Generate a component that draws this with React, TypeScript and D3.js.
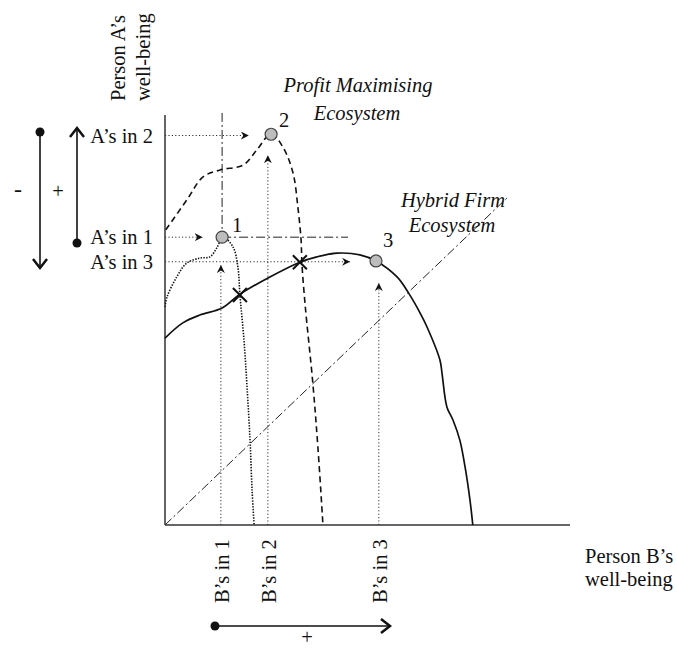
import React from "react";
import * as d3 from "d3";

// ---- data (abstract well-being units, 0..100 on both axes) ----
const profitCurve: [number, number][] = [
  [0.2, 72.0], [5.4, 79.3], [9.4, 84.9], [13.6, 86.6], [19.3, 87.8], [22.7, 91.5],
  [26.2, 95.4], [29.1, 92.2], [31.6, 85.9], [32.8, 77.6], [33.6, 69.5], [33.8, 63.9],
  [34.6, 53.7], [36.5, 34.6], [37.8, 18.3], [39.0, 0],
];
const startCurve: [number, number][] = [
  [0, 53.2], [0.5, 55.6], [2.9, 60.5], [5.4, 63.9], [8.6, 65.1], [11.1, 65.4],
  [12.8, 67.6], [14.3, 70.2], [16.8, 67.8], [18.0, 62.9], [18.5, 56.1], [19.5, 45.1],
  [20.2, 34.6], [21.0, 20.7], [21.5, 8.5], [22.0, 0],
];
const hybridCurve: [number, number][] = [
  [0, 45.6], [4.4, 49.3], [8.6, 51.2], [14.1, 52.9], [18.5, 56.3], [25.9, 60.5],
  [33.3, 64.1], [37.5, 65.4], [42.5, 66.3], [48.1, 65.9], [52.1, 64.4], [57.3, 60.5],
  [60.0, 56.8], [63.0, 51.7], [64.7, 48.3], [67.9, 40.2], [68.4, 37.0], [69.6, 28.8],
  [71.1, 25.6], [72.8, 20.7], [74.1, 14.1], [75.3, 6.1], [76.0, 0],
];
const pointLabels = ["1", "2", "3"];
const pointX = [14.1, 26.2, 52.1];
const pointY = [70.2, 95.3, 64.4];
const aLabels = ["A\u2019s in 2", "A\u2019s in 1", "A\u2019s in 3"];
const aLevels = [95.0, 70.2, 64.2];
const aArrowEnds = [20.7, 9.3, 45.7];
const bLabels = ["B\u2019s in 1", "B\u2019s in 2", "B\u2019s in 3"];
const bLevels = [13.8, 25.4, 52.8];
const bArrowEnds = [63.4, 90.2, 59.0];
const crossings: [number, number][] = [[18.5, 56.1], [33.3, 64.1]];
const diagonal: [number, number][] = [[0, 0], [84.7, 80]];
const axisTop = 100;
const axisRight = 100;
const guideTop = 100.5;
const guideRight = 45.2;

const FONT = "'Liberation Serif', 'Times New Roman', serif";
const FS = 20.5;

export default function App() {
  const W = 677, H = 649;
  const x = d3.scaleLinear().domain([0, 100]).range([165, 570]);
  const y = d3.scaleLinear().domain([0, 100]).range([525, 115]);
  const smooth = d3.line<[number, number]>().x(d => x(d[0])).y(d => y(d[1])).curve(d3.curveCatmullRom.alpha(0.5));
  const straight = d3.line<[number, number]>().x(d => x(d[0])).y(d => y(d[1]));

  const dotted = "1.2,2.2";
  const dashDot = "9,3,2,3";

  return (
    <svg width={W} height={H} style={{ display: "block", position: "absolute", left: 0, top: 0, background: "#fff" }} fontFamily={FONT}>
      <defs>
        <marker id="sm" markerUnits="userSpaceOnUse" markerWidth="10" markerHeight="10" refX="8" refY="4" orient="auto">
          <path d="M0,0 L8,4 L0,8 L2.5,4 Z" fill="#111" />
        </marker>
      </defs>

      {/* axes */}
      <line x1={x(0)} y1={y(axisTop)} x2={x(0)} y2={y(0)} stroke="#333" strokeWidth={1.5} />
      <line x1={x(0)} y1={y(0)} x2={x(axisRight)} y2={y(0)} stroke="#333" strokeWidth={1.5} />

      {/* diagonal and guides */}
      <path d={straight(diagonal) || ""} fill="none" stroke="#222" strokeWidth={1} strokeDasharray={dashDot} />
      <line x1={x(pointX[0])} y1={y(guideTop)} x2={x(pointX[0])} y2={y(pointY[0])} stroke="#222" strokeWidth={1} strokeDasharray={dashDot} />
      <line x1={x(pointX[0])} y1={y(pointY[0])} x2={x(guideRight)} y2={y(pointY[0])} stroke="#222" strokeWidth={1} strokeDasharray={dashDot} />

      {/* dotted projection arrows */}
      {aLevels.map((v, i) => (
        <line key={"a" + i} x1={x(0)} y1={y(v)} x2={x(aArrowEnds[i])} y2={y(v)} stroke="#333" strokeWidth={1} strokeDasharray={dotted} markerEnd="url(#sm)" />
      ))}
      {bLevels.map((v, i) => (
        <line key={"b" + i} x1={x(v)} y1={y(0)} x2={x(v)} y2={y(bArrowEnds[i])} stroke="#333" strokeWidth={1} strokeDasharray={dotted} markerEnd="url(#sm)" />
      ))}

      {/* curves */}
      <path d={smooth(startCurve) || ""} fill="none" stroke="#111" strokeWidth={1.6} strokeDasharray="1.4,1.4" />
      <path d={smooth(profitCurve) || ""} fill="none" stroke="#111" strokeWidth={1.6} strokeDasharray="6,4" />
      <path d={smooth(hybridCurve) || ""} fill="none" stroke="#111" strokeWidth={1.7} />

      {/* crossings */}
      {crossings.map((c, i) => (
        <g key={"x" + i} transform={`translate(${x(c[0])},${y(c[1])})`} stroke="#111" strokeWidth={2}>
          <line x1={-7} y1={-7} x2={7} y2={7} />
          <line x1={-7} y1={7} x2={7} y2={-7} />
        </g>
      ))}

      {/* points */}
      {pointX.map((px, i) => (
        <circle key={"p" + i} cx={x(px)} cy={y(pointY[i])} r={6} fill="#bdbdbd" stroke="#444" strokeWidth={1.2} />
      ))}
      {pointLabels.map((t, i) => (
        <text key={"pl" + i} x={x(pointX[i]) + [15, 13, 12][i]} y={y(pointY[i]) - [12, 14, 21][i]} fontSize={FS} textAnchor="middle" dy="0.35em" fill="#111">{t}</text>
      ))}

      {/* A labels */}
      {aLabels.map((t, i) => (
        <text key={"al" + i} x={153} y={y(aLevels[i])} dy="0.35em" fontSize={FS} textAnchor="end" fill="#111">{t}</text>
      ))}
      {/* B labels */}
      {bLabels.map((t, i) => (
        <text key={"bl" + i} transform={`translate(${x(bLevels[i]) + 1},${603}) rotate(-90)`} dy="0.35em" fontSize={FS} textAnchor="start" fill="#111">{t}</text>
      ))}

      {/* axis titles */}
      <text transform="translate(118,101) rotate(-90)" dy="0.35em" fontSize={FS} fill="#111">Person A’s</text>
      <text transform="translate(143,101) rotate(-90)" dy="0.35em" fontSize={FS} fill="#111">well-being</text>
      <text x={585} y={563} fontSize={FS} fill="#111">Person B’s</text>
      <text x={585} y={586} fontSize={FS} fill="#111">well-being</text>

      {/* ecosystem labels */}
      <text x={358} y={92} fontSize={FS} fontStyle="italic" textAnchor="middle" fill="#111">Profit Maximising</text>
      <text x={357} y={120} fontSize={FS} fontStyle="italic" textAnchor="middle" fill="#111">Ecosystem</text>
      <text x={453} y={207} fontSize={FS} fontStyle="italic" textAnchor="middle" fill="#111">Hybrid Firm</text>
      <text x={452} y={232} fontSize={FS} fontStyle="italic" textAnchor="middle" fill="#111">Ecosystem</text>

      {/* direction arrows */}
      <g stroke="#111" strokeWidth={1.6} fill="none">
        <line x1={40} y1={132} x2={40} y2={267} />
        <path d="M33,259 L40,268 L47,259" strokeWidth={2.5} />
        <line x1={77} y1={242} x2={77} y2={129} />
        <path d="M70,137 L77,128 L84,137" strokeWidth={2.5} />
        <line x1={215} y1={626} x2={389} y2={626} />
        <path d="M381,619 L390,626 L381,633" strokeWidth={2.5} />
      </g>
      <circle cx={40} cy={132} r={4.5} fill="#111" />
      <circle cx={77} cy={243} r={4.5} fill="#111" />
      <circle cx={215} cy={626} r={4.5} fill="#111" />
      <text x={18} y={197} fontSize={24} textAnchor="middle" fill="#111">-</text>
      <text x={58} y={198} fontSize={FS} textAnchor="middle" fill="#111">+</text>
      <text x={307} y={644} fontSize={FS} textAnchor="middle" fill="#111">+</text>
    </svg>
  );
}
